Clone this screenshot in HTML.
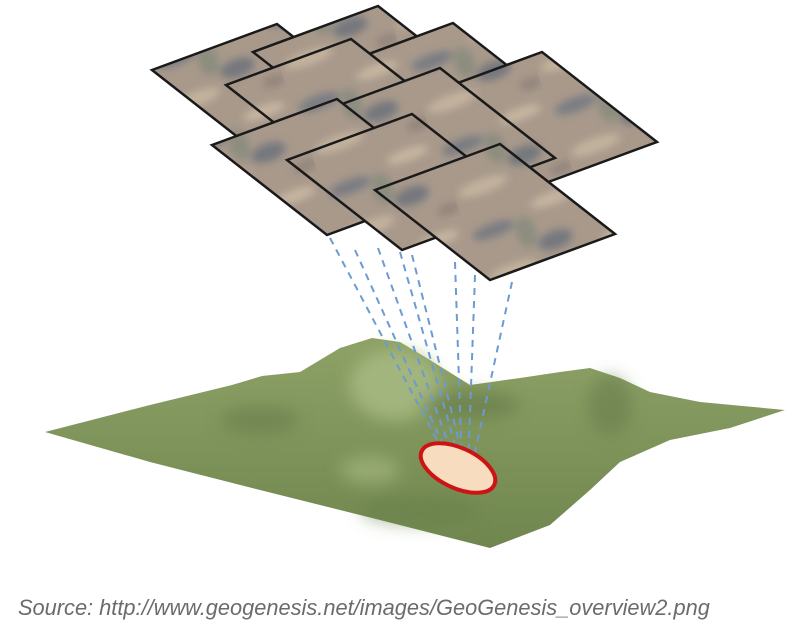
<!DOCTYPE html>
<html><head><meta charset="utf-8"><style>
html,body{margin:0;padding:0;background:#fff;width:810px;height:634px;overflow:hidden}
svg{display:block}
</style></head><body>
<svg width="810" height="634" viewBox="0 0 810 634">
<defs>
<filter id="blur3"><feGaussianBlur stdDeviation="4"/></filter>
<filter id="blur8"><feGaussianBlur stdDeviation="8"/></filter>
<pattern id="aerial" patternUnits="userSpaceOnUse" width="120" height="90" patternTransform="rotate(-20)">
<rect width="120" height="90" fill="#a8998b"/>
<g filter="url(#blur3)">
<ellipse cx="25" cy="25" rx="22" ry="7" fill="#66717f" opacity="0.7"/>
<ellipse cx="80" cy="55" rx="18" ry="9" fill="#5b6677" opacity="0.65"/>
<ellipse cx="90" cy="15" rx="22" ry="6" fill="#cdbba5" opacity="0.85"/>
<ellipse cx="30" cy="70" rx="26" ry="7" fill="#cbbaa3" opacity="0.8"/>
<ellipse cx="55" cy="38" rx="10" ry="16" fill="#7c8677" opacity="0.6"/>
<ellipse cx="110" cy="80" rx="12" ry="6" fill="#8a7d75" opacity="0.7"/>
</g>
</pattern>
<linearGradient id="terr" x1="0" y1="0" x2="0" y2="1">
<stop offset="0" stop-color="#8ea267"/><stop offset="1" stop-color="#6f864e"/>
</linearGradient>
</defs>

<g>
<path d="M45,432 L150,405 L232,385 L262,376 L300,372 L340,348 L372,338 L400,342 L430,360 L470,385 L520,378 L560,372 L590,368 L620,378 L650,392 L700,402 L785,410 L730,428 L670,440 L620,462 L590,490 L550,525 L490,548 L380,520 L260,490 L150,462 Z" fill="url(#terr)"/>
<g filter="url(#blur8)">
<ellipse cx="395" cy="385" rx="45" ry="35" fill="#a9bc85" opacity="0.8"/>
<ellipse cx="470" cy="405" rx="50" ry="14" fill="#5d7242" opacity="0.5"/>
<ellipse cx="260" cy="420" rx="40" ry="14" fill="#5f7444" opacity="0.45"/>
<ellipse cx="370" cy="470" rx="30" ry="14" fill="#a8bb84" opacity="0.6"/>
<ellipse cx="610" cy="405" rx="22" ry="30" fill="#5f7444" opacity="0.45"/>
<ellipse cx="420" cy="510" rx="60" ry="15" fill="#6a8049" opacity="0.5"/>
</g>
</g>

<g stroke="#6b9bd1" stroke-width="2" stroke-dasharray="7,6" fill="none">
<line x1="330" y1="238" x2="445" y2="455"/>
<line x1="355" y1="250" x2="450" y2="460"/>
<line x1="378" y1="248" x2="455" y2="462"/>
<line x1="400" y1="252" x2="460" y2="462"/>
<line x1="412" y1="255" x2="465" y2="465"/>
<line x1="455" y1="262" x2="462" y2="470"/>
<line x1="475" y1="275" x2="468" y2="470"/>
<line x1="512" y1="282" x2="472" y2="466"/>
</g>

<ellipse cx="458" cy="468" rx="40" ry="20" transform="rotate(25 458 468)" fill="#f8dcc0" stroke="#cc1414" stroke-width="4"/>

<g stroke="#1a1a1a" stroke-width="2.5" fill="url(#aerial)">
<path d="M152,70 l125,-46 l115,90 l-125,46 z"/>
<path d="M253,52 l125,-46 l115,90 l-125,46 z"/>
<path d="M328,69 l125,-46 l115,90 l-125,46 z"/>
<path d="M226,85 l125,-46 l115,90 l-125,46 z"/>
<path d="M417,98 l125,-46 l115,90 l-125,46 z"/>
<path d="M315,114 l125,-46 l115,90 l-125,46 z"/>
<path d="M212,145 l125,-46 l115,90 l-125,46 z"/>
<path d="M287,160 l125,-46 l115,90 l-125,46 z"/>
<path d="M375,190 l125,-46 l115,90 l-125,46 z"/>
</g>

<text x="18" y="615" font-family="Liberation Sans, sans-serif" font-style="italic" font-size="21.8" fill="#6b6b6b">Source: http://www.geogenesis.net/images/GeoGenesis_overview2.png</text>
</svg>
</body></html>
